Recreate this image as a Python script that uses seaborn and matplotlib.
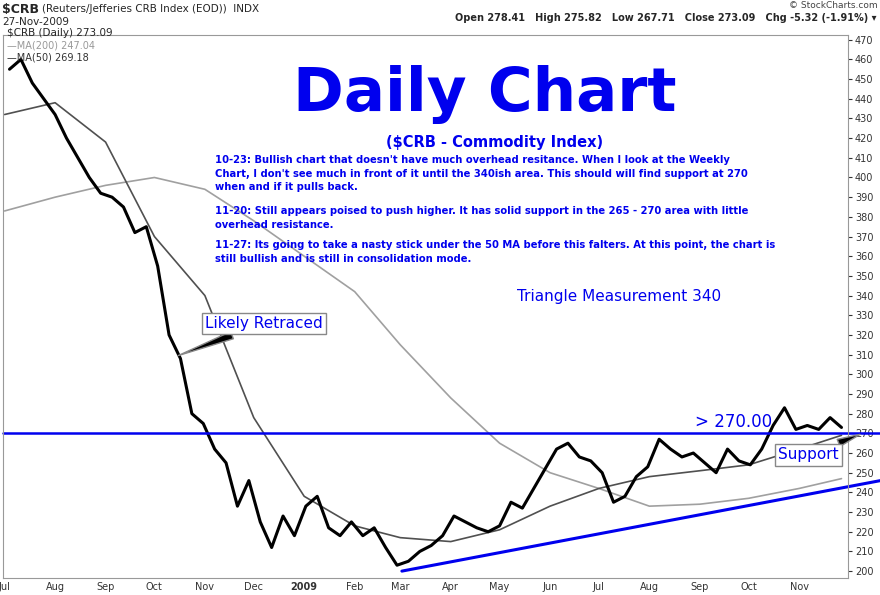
import pandas as pd
import numpy as np
import matplotlib.pyplot as plt
import matplotlib.dates as mdates
import seaborn as sns

# weekly closes
week_dates = pd.date_range("2008-07-04", "2009-11-27", freq="W-FRI")
closes = [455, 460, 448, 440,
          432, 420, 410, 400, 392,
          390, 385, 372, 375,
          355, 320, 308, 280, 275,
          262, 255, 233, 246,
          225, 212, 228, 218, 233,
          238, 222, 218, 225,
          218, 222, 212, 203,
          205, 210, 213, 218,
          228, 225, 222, 220,
          223, 235, 232, 242, 252,
          262, 265, 258, 256,
          250, 235, 238, 248, 253,
          267, 262, 258, 260,
          255, 250, 262, 256,
          254, 262, 274, 283, 272,
          274, 272, 278, 273]

ma_dates = pd.to_datetime(["2008-07-01", "2008-08-01", "2008-09-01", "2008-10-01", "2008-11-01",
                           "2008-12-01", "2009-01-01", "2009-02-01", "2009-03-01", "2009-04-01",
                           "2009-05-01", "2009-06-01", "2009-07-01", "2009-08-01", "2009-09-01",
                           "2009-10-01", "2009-11-01", "2009-11-27"])
ma50 = [432, 438, 418, 370, 340, 278, 238, 223, 217, 215, 221, 233, 242, 248, 251, 254, 262, 269]
ma200 = [383, 390, 396, 400, 394, 378, 360, 342, 315, 288, 265, 250, 242, 233, 234, 237, 242, 247]

month_ticks = pd.date_range("2008-07-01", "2009-11-01", freq="MS")
month_labels = ["Jul", "Aug", "Sep", "Oct", "Nov", "Dec", "2009", "Feb", "Mar", "Apr",
                "May", "Jun", "Jul", "Aug", "Sep", "Oct", "Nov"]

df = pd.DataFrame({"date": week_dates[:len(closes)], "close": closes})
ma = pd.DataFrame({"date": ma_dates, "ma50": ma50, "ma200": ma200})

sns.set_style("white")
plt.rcParams['font.family'] = ['DejaVu Sans']
fig = plt.figure(figsize=(8.8, 5.95), dpi=100)
ax = fig.add_axes([3/880, 17/595, 845/880, 543/595])

sns.lineplot(data=ma, x="date", y="ma200", color="#a0a0a0", lw=1.2, ax=ax)
sns.lineplot(data=ma, x="date", y="ma50", color="#505050", lw=1.2, ax=ax)
sns.lineplot(data=df, x="date", y="close", color="black", lw=2.2, ax=ax)

x0, x1 = pd.Timestamp("2008-06-30"), pd.Timestamp("2009-12-01")
ax.set_xlim(x0, x1)
ax.set_ylim(196.5, 472.4)
ax.set_xticks(month_ticks)
ax.set_xticklabels(month_labels, fontsize=7)
for lbl in ax.get_xticklabels():
    if lbl.get_text() == "2009":
        lbl.set_fontweight("bold")
ax.yaxis.tick_right()
ax.set_yticks(range(200, 471, 10))
ax.tick_params(axis="y", labelsize=7, length=3, pad=2, direction="out", colors="#333333")
ax.tick_params(axis="x", length=2, pad=1, direction="out", colors="#333333")
ax.set_xlabel("")
ax.set_ylabel("")
for s in ax.spines.values():
    s.set_color("#999999")

blue = "#0000ee"
# horizontal line at 270, extending past the axis
ax.plot([x0, pd.Timestamp("2009-12-21")], [270, 270], color=blue, lw=1.8, clip_on=False)
# rising trend line from the March low
ax.plot([pd.Timestamp("2009-03-02"), pd.Timestamp("2009-12-21")], [200, 246],
        color=blue, lw=2.2, clip_on=False)

ax.text(pd.Timestamp("2009-08-29"), 273, "> 270.00", color=blue, fontsize=12)
ax.text(pd.Timestamp("2009-05-12"), 337, "Triangle Measurement 340", color=blue, fontsize=11)
ax.annotate("Likely Retraced", xy=(pd.Timestamp("2008-10-14"), 309),
            xytext=(pd.Timestamp("2008-11-01"), 326), color=blue, fontsize=11, va="center",
            bbox=dict(boxstyle="square,pad=0.2", fc="white", ec="#888888"),
            arrowprops=dict(arrowstyle="wedge,tail_width=0.5", fc="black", ec="#888888"))
ax.annotate("Support", xy=(pd.Timestamp("2009-12-10"), 270),
            xytext=(pd.Timestamp("2009-10-19"), 259), color=blue, fontsize=11, va="center",
            bbox=dict(boxstyle="square,pad=0.2", fc="white", ec="#888888"),
            arrowprops=dict(arrowstyle="wedge,tail_width=0.5", fc="black", ec="#888888"),
            annotation_clip=False)

fig.text(485/880, 1 - 95/595, "Daily Chart", color=blue, fontsize=44, fontweight="bold",
         ha="center", va="center")
fig.text(495/880, 1 - 142/595, "($CRB - Commodity Index)", color=blue, fontsize=10.5,
         fontweight="bold", ha="center", va="center")
notes = [
    (155, "10-23: Bullish chart that doesn't have much overhead resitance. When I look at the Weekly\n"
          "Chart, I don't see much in front of it until the 340ish area. This should will find support at 270\n"
          "when and if it pulls back."),
    (206, "11-20: Still appears poised to push higher. It has solid support in the 265 - 270 area with little\n"
          "overhead resistance."),
    (240, "11-27: Its going to take a nasty stick under the 50 MA before this falters. At this point, the chart is\n"
          "still bullish and is still in consolidation mode."),
]
for y, t in notes:
    fig.text(215/880, 1 - y/595, t, color=blue, fontsize=7.2, fontweight="bold",
             va="top", linespacing=1.45)

# header
fig.text(2/880, 1 - 9/595, "$CRB", fontsize=9, fontweight="bold", va="center")
fig.text(42/880, 1 - 9/595, "(Reuters/Jefferies CRB Index (EOD))  INDX", fontsize=7.5, va="center")
fig.text(2/880, 1 - 22/595, "27-Nov-2009", fontsize=7.5, va="center")
fig.text(876/880, 1 - 18/595, "Open 278.41   High 275.82   Low 267.71   Close 273.09   Chg -5.32 (-1.91%) \u25be",
         fontsize=7, fontweight="bold", va="center", ha="right")
fig.text(878/880, 1 - 5/595, "\u00a9 StockCharts.com", fontsize=6.5, color="#444444", ha="right", va="center")
fig.text(7/880, 1 - 33/595, "$CRB (Daily) 273.09", fontsize=7.5, va="center")
fig.text(7/880, 1 - 46/595, "\u2014MA(200) 247.04", fontsize=7, color="#999999", va="center")
fig.text(7/880, 1 - 57/595, "\u2014MA(50) 269.18", fontsize=7, color="#333333", va="center")

fig.savefig("out.png", dpi=100)
